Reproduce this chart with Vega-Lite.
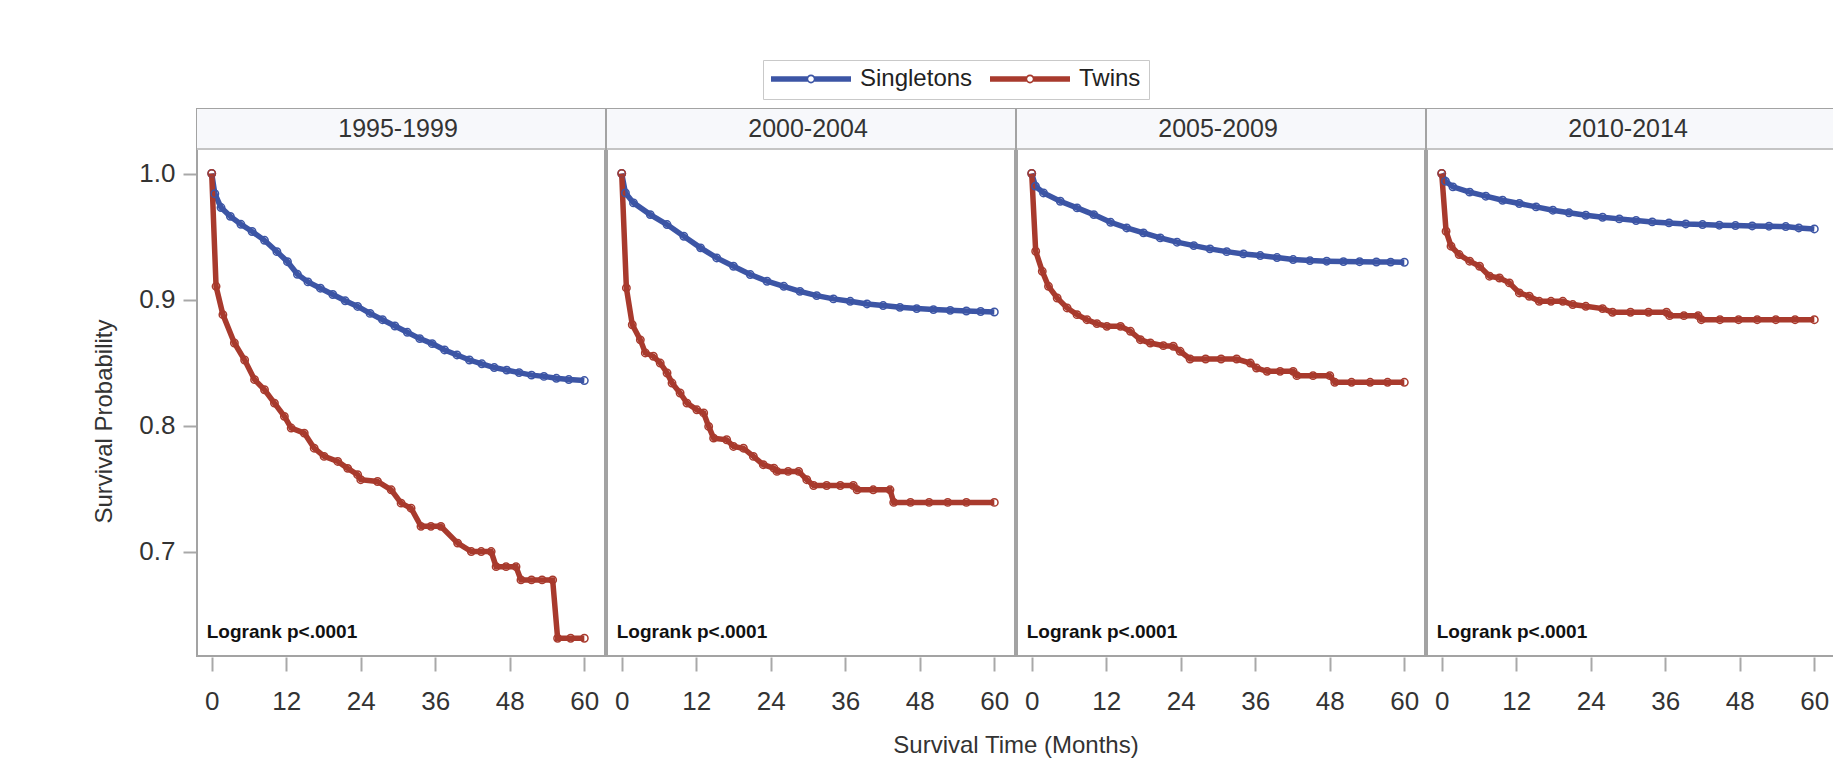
{
  "$schema": "https://vega.github.io/schema/vega-lite/v6.json",
  "padding": {"left": 92, "top": 59, "right": 0, "bottom": 10},
  "background": "white",
  "config": {
    "font": "Liberation Sans",
    "view": {"stroke": "#a3a3a3", "strokeWidth": 2},
    "facet": {"spacing": 0}
  },
  "data": {"values": [
    {"period":"1995-1999","group":"Singletons","month":0,"survival":1.0},
    {"period":"1995-1999","group":"Singletons","month":0.5,"survival":0.984},
    {"period":"1995-1999","group":"Singletons","month":1.5,"survival":0.973},
    {"period":"1995-1999","group":"Singletons","month":3,"survival":0.966},
    {"period":"1995-1999","group":"Singletons","month":4.7,"survival":0.9597},
    {"period":"1995-1999","group":"Singletons","month":6.5,"survival":0.954},
    {"period":"1995-1999","group":"Singletons","month":8.5,"survival":0.947},
    {"period":"1995-1999","group":"Singletons","month":10.5,"survival":0.938},
    {"period":"1995-1999","group":"Singletons","month":12.2,"survival":0.930},
    {"period":"1995-1999","group":"Singletons","month":13.8,"survival":0.920},
    {"period":"1995-1999","group":"Singletons","month":15.5,"survival":0.914},
    {"period":"1995-1999","group":"Singletons","month":17.5,"survival":0.909},
    {"period":"1995-1999","group":"Singletons","month":19.5,"survival":0.904},
    {"period":"1995-1999","group":"Singletons","month":21.5,"survival":0.899},
    {"period":"1995-1999","group":"Singletons","month":23.5,"survival":0.8945},
    {"period":"1995-1999","group":"Singletons","month":25.5,"survival":0.889},
    {"period":"1995-1999","group":"Singletons","month":27.5,"survival":0.884},
    {"period":"1995-1999","group":"Singletons","month":29.5,"survival":0.879},
    {"period":"1995-1999","group":"Singletons","month":31.5,"survival":0.874},
    {"period":"1995-1999","group":"Singletons","month":33.5,"survival":0.869},
    {"period":"1995-1999","group":"Singletons","month":35.5,"survival":0.865},
    {"period":"1995-1999","group":"Singletons","month":37.5,"survival":0.860},
    {"period":"1995-1999","group":"Singletons","month":39.5,"survival":0.856},
    {"period":"1995-1999","group":"Singletons","month":41.5,"survival":0.852},
    {"period":"1995-1999","group":"Singletons","month":43.5,"survival":0.849},
    {"period":"1995-1999","group":"Singletons","month":45.5,"survival":0.846},
    {"period":"1995-1999","group":"Singletons","month":47.5,"survival":0.844},
    {"period":"1995-1999","group":"Singletons","month":49.5,"survival":0.842},
    {"period":"1995-1999","group":"Singletons","month":51.5,"survival":0.840},
    {"period":"1995-1999","group":"Singletons","month":53.5,"survival":0.839},
    {"period":"1995-1999","group":"Singletons","month":55.5,"survival":0.8375},
    {"period":"1995-1999","group":"Singletons","month":57.5,"survival":0.8365},
    {"period":"1995-1999","group":"Singletons","month":60,"survival":0.8357},

    {"period":"1995-1999","group":"Twins","month":0,"survival":1.0},
    {"period":"1995-1999","group":"Twins","month":0.7,"survival":0.9105},
    {"period":"1995-1999","group":"Twins","month":1.8,"survival":0.888},
    {"period":"1995-1999","group":"Twins","month":3.65,"survival":0.8655},
    {"period":"1995-1999","group":"Twins","month":5.3,"survival":0.852},
    {"period":"1995-1999","group":"Twins","month":6.9,"survival":0.8364},
    {"period":"1995-1999","group":"Twins","month":8.5,"survival":0.8284},
    {"period":"1995-1999","group":"Twins","month":10.1,"survival":0.8178},
    {"period":"1995-1999","group":"Twins","month":11.7,"survival":0.8073},
    {"period":"1995-1999","group":"Twins","month":12.8,"survival":0.798},
    {"period":"1995-1999","group":"Twins","month":14.9,"survival":0.794},
    {"period":"1995-1999","group":"Twins","month":16.5,"survival":0.782},
    {"period":"1995-1999","group":"Twins","month":18.1,"survival":0.7755},
    {"period":"1995-1999","group":"Twins","month":20.3,"survival":0.7715},
    {"period":"1995-1999","group":"Twins","month":21.9,"survival":0.766},
    {"period":"1995-1999","group":"Twins","month":23.5,"survival":0.761},
    {"period":"1995-1999","group":"Twins","month":24.0,"survival":0.757},
    {"period":"1995-1999","group":"Twins","month":26.7,"survival":0.7556},
    {"period":"1995-1999","group":"Twins","month":28.9,"survival":0.749},
    {"period":"1995-1999","group":"Twins","month":30.5,"survival":0.7384},
    {"period":"1995-1999","group":"Twins","month":32.1,"survival":0.7344},
    {"period":"1995-1999","group":"Twins","month":33.7,"survival":0.72},
    {"period":"1995-1999","group":"Twins","month":35.3,"survival":0.72},
    {"period":"1995-1999","group":"Twins","month":36.9,"survival":0.72},
    {"period":"1995-1999","group":"Twins","month":39.6,"survival":0.7067},
    {"period":"1995-1999","group":"Twins","month":41.8,"survival":0.70},
    {"period":"1995-1999","group":"Twins","month":43.4,"survival":0.70},
    {"period":"1995-1999","group":"Twins","month":45,"survival":0.70},
    {"period":"1995-1999","group":"Twins","month":45.8,"survival":0.688},
    {"period":"1995-1999","group":"Twins","month":47.4,"survival":0.688},
    {"period":"1995-1999","group":"Twins","month":49,"survival":0.688},
    {"period":"1995-1999","group":"Twins","month":49.8,"survival":0.6775},
    {"period":"1995-1999","group":"Twins","month":51.5,"survival":0.6775},
    {"period":"1995-1999","group":"Twins","month":53.2,"survival":0.6775},
    {"period":"1995-1999","group":"Twins","month":54.9,"survival":0.6775},
    {"period":"1995-1999","group":"Twins","month":55.7,"survival":0.6312},
    {"period":"1995-1999","group":"Twins","month":57.8,"survival":0.6312},
    {"period":"1995-1999","group":"Twins","month":60,"survival":0.6312},

    {"period":"2000-2004","group":"Singletons","month":0,"survival":1.0},
    {"period":"2000-2004","group":"Singletons","month":0.6,"survival":0.9846},
    {"period":"2000-2004","group":"Singletons","month":1.9,"survival":0.9767},
    {"period":"2000-2004","group":"Singletons","month":4.6,"survival":0.9674},
    {"period":"2000-2004","group":"Singletons","month":7.3,"survival":0.9595},
    {"period":"2000-2004","group":"Singletons","month":10,"survival":0.9502},
    {"period":"2000-2004","group":"Singletons","month":12.7,"survival":0.941},
    {"period":"2000-2004","group":"Singletons","month":15.3,"survival":0.933},
    {"period":"2000-2004","group":"Singletons","month":18,"survival":0.9264},
    {"period":"2000-2004","group":"Singletons","month":20.7,"survival":0.9198},
    {"period":"2000-2004","group":"Singletons","month":23.4,"survival":0.9145},
    {"period":"2000-2004","group":"Singletons","month":26.1,"survival":0.9105},
    {"period":"2000-2004","group":"Singletons","month":28.7,"survival":0.9065},
    {"period":"2000-2004","group":"Singletons","month":31.4,"survival":0.9031},
    {"period":"2000-2004","group":"Singletons","month":34.1,"survival":0.9005},
    {"period":"2000-2004","group":"Singletons","month":36.8,"survival":0.8986},
    {"period":"2000-2004","group":"Singletons","month":39.5,"survival":0.8965},
    {"period":"2000-2004","group":"Singletons","month":42.1,"survival":0.8952},
    {"period":"2000-2004","group":"Singletons","month":44.8,"survival":0.8938},
    {"period":"2000-2004","group":"Singletons","month":47.5,"survival":0.8928},
    {"period":"2000-2004","group":"Singletons","month":50.2,"survival":0.892},
    {"period":"2000-2004","group":"Singletons","month":52.9,"survival":0.8914},
    {"period":"2000-2004","group":"Singletons","month":55.5,"survival":0.8909},
    {"period":"2000-2004","group":"Singletons","month":57.8,"survival":0.8905},
    {"period":"2000-2004","group":"Singletons","month":60,"survival":0.8901},

    {"period":"2000-2004","group":"Twins","month":0,"survival":1.0},
    {"period":"2000-2004","group":"Twins","month":0.75,"survival":0.9092},
    {"period":"2000-2004","group":"Twins","month":1.7,"survival":0.880},
    {"period":"2000-2004","group":"Twins","month":3,"survival":0.868},
    {"period":"2000-2004","group":"Twins","month":3.8,"survival":0.8576},
    {"period":"2000-2004","group":"Twins","month":5.1,"survival":0.855},
    {"period":"2000-2004","group":"Twins","month":6.2,"survival":0.8496},
    {"period":"2000-2004","group":"Twins","month":7.3,"survival":0.8417},
    {"period":"2000-2004","group":"Twins","month":8.1,"survival":0.8337},
    {"period":"2000-2004","group":"Twins","month":9.4,"survival":0.8258},
    {"period":"2000-2004","group":"Twins","month":10.5,"survival":0.8178},
    {"period":"2000-2004","group":"Twins","month":12.1,"survival":0.8125},
    {"period":"2000-2004","group":"Twins","month":13.2,"survival":0.81},
    {"period":"2000-2004","group":"Twins","month":14,"survival":0.7993},
    {"period":"2000-2004","group":"Twins","month":14.8,"survival":0.79},
    {"period":"2000-2004","group":"Twins","month":16.9,"survival":0.7887},
    {"period":"2000-2004","group":"Twins","month":18,"survival":0.7834},
    {"period":"2000-2004","group":"Twins","month":19.6,"survival":0.782},
    {"period":"2000-2004","group":"Twins","month":21.2,"survival":0.7755},
    {"period":"2000-2004","group":"Twins","month":22.8,"survival":0.7689},
    {"period":"2000-2004","group":"Twins","month":24.5,"survival":0.7662},
    {"period":"2000-2004","group":"Twins","month":25,"survival":0.7636},
    {"period":"2000-2004","group":"Twins","month":26.8,"survival":0.7636},
    {"period":"2000-2004","group":"Twins","month":28.5,"survival":0.7636},
    {"period":"2000-2004","group":"Twins","month":29.8,"survival":0.757},
    {"period":"2000-2004","group":"Twins","month":30.9,"survival":0.7524},
    {"period":"2000-2004","group":"Twins","month":33,"survival":0.7524},
    {"period":"2000-2004","group":"Twins","month":35.2,"survival":0.7524},
    {"period":"2000-2004","group":"Twins","month":37.3,"survival":0.7524},
    {"period":"2000-2004","group":"Twins","month":37.9,"survival":0.749},
    {"period":"2000-2004","group":"Twins","month":40.5,"survival":0.749},
    {"period":"2000-2004","group":"Twins","month":43.2,"survival":0.749},
    {"period":"2000-2004","group":"Twins","month":43.8,"survival":0.739},
    {"period":"2000-2004","group":"Twins","month":46.5,"survival":0.739},
    {"period":"2000-2004","group":"Twins","month":49.5,"survival":0.739},
    {"period":"2000-2004","group":"Twins","month":52.5,"survival":0.739},
    {"period":"2000-2004","group":"Twins","month":55.5,"survival":0.739},
    {"period":"2000-2004","group":"Twins","month":60,"survival":0.739},

    {"period":"2005-2009","group":"Singletons","month":0,"survival":1.0},
    {"period":"2005-2009","group":"Singletons","month":0.6,"survival":0.990},
    {"period":"2005-2009","group":"Singletons","month":1.9,"survival":0.9846},
    {"period":"2005-2009","group":"Singletons","month":4.6,"survival":0.978},
    {"period":"2005-2009","group":"Singletons","month":7.3,"survival":0.9727},
    {"period":"2005-2009","group":"Singletons","month":10,"survival":0.9674},
    {"period":"2005-2009","group":"Singletons","month":12.7,"survival":0.9613},
    {"period":"2005-2009","group":"Singletons","month":15.3,"survival":0.9568},
    {"period":"2005-2009","group":"Singletons","month":18,"survival":0.9529},
    {"period":"2005-2009","group":"Singletons","month":20.7,"survival":0.9489},
    {"period":"2005-2009","group":"Singletons","month":23.4,"survival":0.9455},
    {"period":"2005-2009","group":"Singletons","month":26.1,"survival":0.9428},
    {"period":"2005-2009","group":"Singletons","month":28.7,"survival":0.9402},
    {"period":"2005-2009","group":"Singletons","month":31.4,"survival":0.938},
    {"period":"2005-2009","group":"Singletons","month":34.1,"survival":0.9362},
    {"period":"2005-2009","group":"Singletons","month":36.8,"survival":0.9349},
    {"period":"2005-2009","group":"Singletons","month":39.5,"survival":0.9333},
    {"period":"2005-2009","group":"Singletons","month":42.1,"survival":0.9317},
    {"period":"2005-2009","group":"Singletons","month":44.8,"survival":0.9309},
    {"period":"2005-2009","group":"Singletons","month":47.5,"survival":0.9304},
    {"period":"2005-2009","group":"Singletons","month":50.2,"survival":0.9301},
    {"period":"2005-2009","group":"Singletons","month":52.8,"survival":0.93},
    {"period":"2005-2009","group":"Singletons","month":55.5,"survival":0.9298},
    {"period":"2005-2009","group":"Singletons","month":57.8,"survival":0.9297},
    {"period":"2005-2009","group":"Singletons","month":60,"survival":0.9296},

    {"period":"2005-2009","group":"Twins","month":0,"survival":1.0},
    {"period":"2005-2009","group":"Twins","month":0.64,"survival":0.9383},
    {"period":"2005-2009","group":"Twins","month":1.7,"survival":0.9224},
    {"period":"2005-2009","group":"Twins","month":2.7,"survival":0.9105},
    {"period":"2005-2009","group":"Twins","month":4.1,"survival":0.9012},
    {"period":"2005-2009","group":"Twins","month":5.7,"survival":0.8933},
    {"period":"2005-2009","group":"Twins","month":7.3,"survival":0.888},
    {"period":"2005-2009","group":"Twins","month":8.9,"survival":0.884},
    {"period":"2005-2009","group":"Twins","month":10.5,"survival":0.8809},
    {"period":"2005-2009","group":"Twins","month":12.1,"survival":0.8787},
    {"period":"2005-2009","group":"Twins","month":14.3,"survival":0.8787},
    {"period":"2005-2009","group":"Twins","month":15.9,"survival":0.8748},
    {"period":"2005-2009","group":"Twins","month":17.5,"survival":0.8681},
    {"period":"2005-2009","group":"Twins","month":19.1,"survival":0.8655},
    {"period":"2005-2009","group":"Twins","month":21.2,"survival":0.8634},
    {"period":"2005-2009","group":"Twins","month":22.8,"survival":0.8629},
    {"period":"2005-2009","group":"Twins","month":23.9,"survival":0.8589},
    {"period":"2005-2009","group":"Twins","month":25.5,"survival":0.8528},
    {"period":"2005-2009","group":"Twins","month":28,"survival":0.8528},
    {"period":"2005-2009","group":"Twins","month":30.5,"survival":0.8528},
    {"period":"2005-2009","group":"Twins","month":33,"survival":0.8528},
    {"period":"2005-2009","group":"Twins","month":35.2,"survival":0.8496},
    {"period":"2005-2009","group":"Twins","month":36.2,"survival":0.8456},
    {"period":"2005-2009","group":"Twins","month":37.9,"survival":0.843},
    {"period":"2005-2009","group":"Twins","month":40,"survival":0.843},
    {"period":"2005-2009","group":"Twins","month":42.1,"survival":0.843},
    {"period":"2005-2009","group":"Twins","month":42.7,"survival":0.8396},
    {"period":"2005-2009","group":"Twins","month":45.3,"survival":0.8396},
    {"period":"2005-2009","group":"Twins","month":48,"survival":0.8396},
    {"period":"2005-2009","group":"Twins","month":48.8,"survival":0.8343},
    {"period":"2005-2009","group":"Twins","month":51.5,"survival":0.8343},
    {"period":"2005-2009","group":"Twins","month":54.5,"survival":0.8343},
    {"period":"2005-2009","group":"Twins","month":57.3,"survival":0.8343},
    {"period":"2005-2009","group":"Twins","month":60,"survival":0.8343},

    {"period":"2010-2014","group":"Singletons","month":0,"survival":1.0},
    {"period":"2010-2014","group":"Singletons","month":0.6,"survival":0.9939},
    {"period":"2010-2014","group":"Singletons","month":1.8,"survival":0.9894},
    {"period":"2010-2014","group":"Singletons","month":4.5,"survival":0.9852},
    {"period":"2010-2014","group":"Singletons","month":7.1,"survival":0.982},
    {"period":"2010-2014","group":"Singletons","month":9.8,"survival":0.9788},
    {"period":"2010-2014","group":"Singletons","month":12.5,"survival":0.9762},
    {"period":"2010-2014","group":"Singletons","month":15.2,"survival":0.9735},
    {"period":"2010-2014","group":"Singletons","month":17.9,"survival":0.9709},
    {"period":"2010-2014","group":"Singletons","month":20.5,"survival":0.9688},
    {"period":"2010-2014","group":"Singletons","month":23.2,"survival":0.9669},
    {"period":"2010-2014","group":"Singletons","month":25.9,"survival":0.9653},
    {"period":"2010-2014","group":"Singletons","month":28.6,"survival":0.964},
    {"period":"2010-2014","group":"Singletons","month":31.3,"survival":0.9627},
    {"period":"2010-2014","group":"Singletons","month":33.9,"survival":0.9616},
    {"period":"2010-2014","group":"Singletons","month":36.6,"survival":0.9608},
    {"period":"2010-2014","group":"Singletons","month":39.3,"survival":0.96},
    {"period":"2010-2014","group":"Singletons","month":42,"survival":0.9595},
    {"period":"2010-2014","group":"Singletons","month":44.7,"survival":0.959},
    {"period":"2010-2014","group":"Singletons","month":47.3,"survival":0.9587},
    {"period":"2010-2014","group":"Singletons","month":50,"survival":0.9584},
    {"period":"2010-2014","group":"Singletons","month":52.7,"survival":0.9582},
    {"period":"2010-2014","group":"Singletons","month":55.4,"survival":0.9579},
    {"period":"2010-2014","group":"Singletons","month":57.5,"survival":0.9568},
    {"period":"2010-2014","group":"Singletons","month":60,"survival":0.956},

    {"period":"2010-2014","group":"Twins","month":0,"survival":1.0},
    {"period":"2010-2014","group":"Twins","month":0.7,"survival":0.9542},
    {"period":"2010-2014","group":"Twins","month":1.5,"survival":0.9423},
    {"period":"2010-2014","group":"Twins","month":2.8,"survival":0.9357},
    {"period":"2010-2014","group":"Twins","month":4.5,"survival":0.9304},
    {"period":"2010-2014","group":"Twins","month":6.1,"survival":0.9264},
    {"period":"2010-2014","group":"Twins","month":7.7,"survival":0.9185},
    {"period":"2010-2014","group":"Twins","month":9.3,"survival":0.9171},
    {"period":"2010-2014","group":"Twins","month":10.9,"survival":0.9132},
    {"period":"2010-2014","group":"Twins","month":12.5,"survival":0.9052},
    {"period":"2010-2014","group":"Twins","month":14.1,"survival":0.9026},
    {"period":"2010-2014","group":"Twins","month":15.7,"survival":0.8986},
    {"period":"2010-2014","group":"Twins","month":17.6,"survival":0.8986},
    {"period":"2010-2014","group":"Twins","month":19.5,"survival":0.8986},
    {"period":"2010-2014","group":"Twins","month":21.1,"survival":0.896},
    {"period":"2010-2014","group":"Twins","month":23.2,"survival":0.8946},
    {"period":"2010-2014","group":"Twins","month":25.9,"survival":0.8928},
    {"period":"2010-2014","group":"Twins","month":27.5,"survival":0.8899},
    {"period":"2010-2014","group":"Twins","month":30.4,"survival":0.8899},
    {"period":"2010-2014","group":"Twins","month":33.3,"survival":0.8899},
    {"period":"2010-2014","group":"Twins","month":36.2,"survival":0.8899},
    {"period":"2010-2014","group":"Twins","month":36.7,"survival":0.8872},
    {"period":"2010-2014","group":"Twins","month":39,"survival":0.8872},
    {"period":"2010-2014","group":"Twins","month":41.3,"survival":0.8872},
    {"period":"2010-2014","group":"Twins","month":41.8,"survival":0.884},
    {"period":"2010-2014","group":"Twins","month":44.8,"survival":0.884},
    {"period":"2010-2014","group":"Twins","month":47.8,"survival":0.884},
    {"period":"2010-2014","group":"Twins","month":50.8,"survival":0.884},
    {"period":"2010-2014","group":"Twins","month":53.8,"survival":0.884},
    {"period":"2010-2014","group":"Twins","month":56.9,"survival":0.884},
    {"period":"2010-2014","group":"Twins","month":60,"survival":0.884}
  ]},
  "facet": {
    "column": {
      "field": "period",
      "type": "nominal",
      "sort": ["1995-1999","2000-2004","2005-2009","2010-2014"],
      "header": {
        "labels": false,
        "title": "Survival Time (Months)",
        "titleOrient": "bottom",
        "titleFontSize": 24,
        "titleFontWeight": "normal",
        "titleColor": "#333333",
        "titlePadding": 10
      }
    }
  },
  "spec": {
    "width": 408,
    "height": 547,
    "layer": [
      {
        "transform": [{"filter": "datum.group == 'Twins' && datum.month == 0"}],
        "mark": {"type": "rect", "fill": "#f7f8fb", "strokeWidth": 0},
        "encoding": {
          "x": {"datum": -2.37, "type": "quantitative", "scale": {"domain": [-2.37, 63.33], "nice": false, "zero": false}},
          "x2": {"datum": 63.33},
          "y": {"datum": 1.0202, "type": "quantitative", "scale": {"domain": [0.6171, 1.0512], "nice": false, "zero": false}},
          "y2": {"datum": 1.0512}
        }
      },
      {
        "transform": [{"filter": "datum.group == 'Twins' && datum.month == 0"}],
        "mark": {"type": "rect", "fill": "#c4c4c4", "strokeWidth": 0},
        "encoding": {
          "x": {"datum": -2.37, "type": "quantitative"},
          "x2": {"datum": 63.33},
          "y": {"datum": 1.0186, "type": "quantitative"},
          "y2": {"datum": 1.0202}
        }
      },
      {
        "transform": [{"filter": "datum.group == 'Twins' && datum.month == 0"}],
        "mark": {"type": "text", "fontSize": 25, "fill": "#333333", "baseline": "middle", "align": "center"},
        "encoding": {
          "x": {"datum": 30, "type": "quantitative"},
          "y": {"datum": 1.0353, "type": "quantitative"},
          "text": {"field": "period", "type": "nominal"}
        }
      },
      {
        "transform": [{"filter": "datum.group == 'Twins' && datum.month == 0"}],
        "mark": {"type": "text", "fontSize": 19, "fontWeight": "bold", "fill": "#111111", "baseline": "alphabetic", "align": "left", "text": "Logrank p<.0001"},
        "encoding": {
          "x": {"datum": -0.8, "type": "quantitative"},
          "y": {"datum": 0.6313, "type": "quantitative"}
        }
      },
      {
        "mark": {"type": "line", "strokeWidth": 5.5, "interpolate": "linear"},
        "encoding": {
          "x": {
            "field": "month", "type": "quantitative",
            "axis": {
              "values": [0, 12, 24, 36, 48, 60], "title": null, "domain": false, "grid": false,
              "tickColor": "#a8a8a8", "tickSize": 14, "tickWidth": 2,
              "labelFontSize": 26, "labelColor": "#333333", "labelPadding": 17
            }
          },
          "y": {
            "field": "survival", "type": "quantitative",
            "axis": {
              "values": [0.7, 0.8, 0.9, 1.0], "format": ".1f", "title": "Survival Probability",
              "domain": false, "grid": false,
              "tickColor": "#a8a8a8", "tickSize": 13, "tickWidth": 2,
              "labelFontSize": 26, "labelColor": "#333333", "labelPadding": 8,
              "titleFontSize": 24, "titleFontWeight": "normal", "titleColor": "#333333",
              "titlePadding": 22, "titleY": 312
            }
          },
          "detail": {"field": "group"},
          "color": {
            "field": "group", "type": "nominal",
            "scale": {"domain": ["Singletons", "Twins"], "range": ["#3c55a5", "#a83a2d"]},
            "legend": {
              "title": null,
              "orient": "none",
              "legendX": 566,
              "legendY": -49,
              "direction": "horizontal",
              "symbolType": "M-1,-0.07H-0.09V0.07H-1Z M0.09,-0.07H1V0.07H0.09Z M-0.11,0A0.11,0.11 0 1,1 0.11,0A0.11,0.11 0 1,1 -0.11,0Z M-0.07,0A0.07,0.07 0 1,0 0.07,0A0.07,0.07 0 1,0 -0.07,0Z",
              "symbolSize": 6400,
              "clipHeight": 22,
              "symbolStrokeWidth": 0,
              "labelFontSize": 24,
              "labelColor": "#222222",
              "labelOffset": 9,
              "columnPadding": 17,
              "padding": 8,
              "strokeColor": "#c9c9c9",
              "fillColor": "white",
              "encode": {
                "symbols": {"update": {"fill": {"scale": "color", "field": "value"}, "strokeWidth": {"value": 0}, "opacity": {"value": 1}}}
              }
            }
          }
        }
      },
      {
        "mark": {"type": "point", "shape": "circle", "filled": false, "size": 55, "strokeWidth": 1.5, "opacity": 1},
        "encoding": {
          "x": {"field": "month", "type": "quantitative"},
          "y": {"field": "survival", "type": "quantitative"},
          "color": {"field": "group", "type": "nominal", "legend": null}
        }
      }
    ]
  },
  "resolve": {"scale": {"x": "shared", "y": "shared"}}
}
